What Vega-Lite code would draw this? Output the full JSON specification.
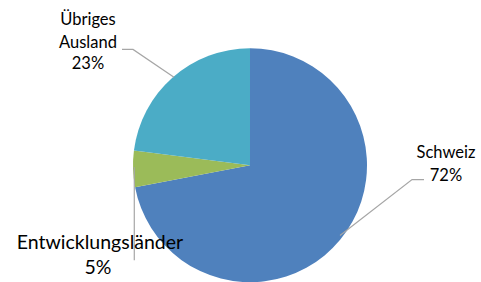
{
  "$schema": "https://vega.github.io/schema/vega-lite/v6.json",
  "width": 481,
  "height": 282,
  "autosize": {"type": "fit", "contains": "padding"},
  "padding": 0,
  "background": "white",
  "config": {"view": {"stroke": null}},
  "datasets": {
    "slices": [
      {"region": "Schweiz", "share": 72, "rank": 1},
      {"region": "Entwicklungsländer", "share": 5, "rank": 2},
      {"region": "Übriges Ausland", "share": 23, "rank": 3}
    ],
    "leaders": [
      {"region": "Übriges Ausland", "step": 1, "lx": -1.094, "ly": 1.0},
      {"region": "Übriges Ausland", "step": 2, "lx": -1.0, "ly": 1.0},
      {"region": "Übriges Ausland", "step": 3, "lx": -0.6496, "ly": 0.7607},
      {"region": "Schweiz", "step": 1, "lx": 1.487, "ly": -0.124},
      {"region": "Schweiz", "step": 2, "lx": 1.385, "ly": -0.124},
      {"region": "Schweiz", "step": 3, "lx": 0.769, "ly": -0.607},
      {"region": "Entwicklungsländer", "step": 1, "lx": -0.989, "ly": -0.017},
      {"region": "Entwicklungsländer", "step": 2, "lx": -0.989, "ly": -0.821}
    ],
    "labels": [
      {"line": "Übriges", "lx": -1.385, "ly": 1.2137},
      {"line": "Ausland", "lx": -1.385, "ly": 1.017},
      {"line": "23%", "lx": -1.385, "ly": 0.829},
      {"line": "Schweiz", "lx": 1.675, "ly": 0.0598},
      {"line": "72%", "lx": 1.675, "ly": -0.137}
    ],
    "bigLabels": [
      {"line": "Entwicklungsländer", "lx": -1.282, "ly": -0.726},
      {"line": "5%", "lx": -1.30, "ly": -0.940}
    ]
  },
  "layer": [
    {
      "data": {"name": "slices"},
      "mark": {"type": "arc", "outerRadius": 117},
      "encoding": {
        "x": {"datum": 0, "type": "quantitative", "scale": {"domain": [-2.1368, 1.9744], "nice": false, "zero": false}, "axis": null},
        "y": {"datum": 0, "type": "quantitative", "scale": {"domain": [-0.9829, 1.4274], "nice": false, "zero": false}, "axis": null},
        "theta": {"field": "share", "type": "quantitative", "stack": true},
        "order": {"field": "rank", "type": "quantitative"},
        "color": {
          "field": "region",
          "type": "nominal",
          "scale": {"domain": ["Schweiz", "Entwicklungsländer", "Übriges Ausland"], "range": ["#4F81BD", "#9BBB59", "#4BACC6"]},
          "legend": null
        }
      }
    },
    {
      "data": {"name": "leaders"},
      "mark": {"type": "line", "color": "#A6A6A6", "strokeWidth": 1.2},
      "encoding": {
        "x": {"field": "lx", "type": "quantitative", "axis": null},
        "y": {"field": "ly", "type": "quantitative", "axis": null},
        "detail": {"field": "region"},
        "order": {"field": "step", "type": "quantitative"}
      }
    },
    {
      "data": {"name": "labels"},
      "mark": {"type": "text", "font": "Lato", "fontSize": 16.5, "color": "#000000", "align": "center", "baseline": "alphabetic"},
      "encoding": {
        "x": {"field": "lx", "type": "quantitative", "axis": null},
        "y": {"field": "ly", "type": "quantitative", "axis": null},
        "text": {"field": "line"}
      }
    },
    {
      "data": {"name": "bigLabels"},
      "mark": {"type": "text", "font": "Lato", "fontSize": 19.5, "color": "#000000", "align": "center", "baseline": "alphabetic"},
      "encoding": {
        "x": {"field": "lx", "type": "quantitative", "axis": null},
        "y": {"field": "ly", "type": "quantitative", "axis": null},
        "text": {"field": "line"}
      }
    }
  ]
}
